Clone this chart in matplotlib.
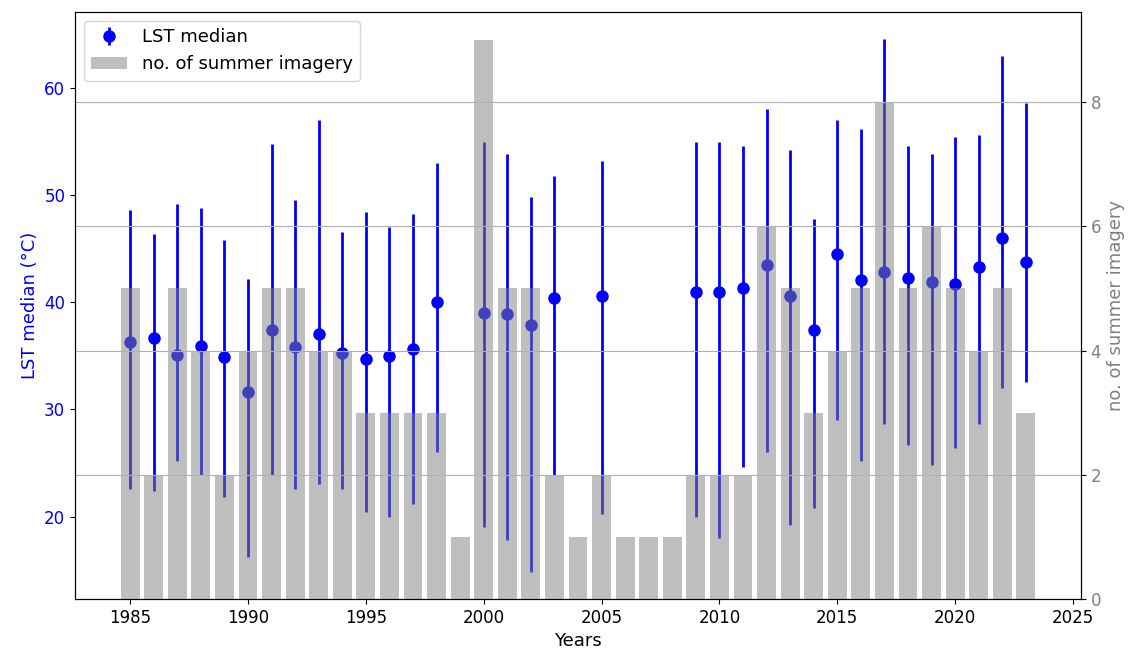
import matplotlib
matplotlib.use("Agg")
import matplotlib.pyplot as plt
import numpy as np


# number of summer images per year (right axis)
img_years = np.arange(1985, 2024)
img_counts = np.array([
    5, 2, 5, 4, 2, 4, 5, 5, 4, 4,
    3, 3, 3, 3, 1, 9, 5, 5, 2, 1,
    2, 1, 1, 1, 2, 2, 2, 6, 5, 3,
    4, 5, 8, 5, 6, 5, 4, 5, 3,
])

# LST median with lower / upper whisker ends (left axis)
lst_years = np.array([
    1985, 1986, 1987, 1988, 1989, 1990, 1991, 1992, 1993, 1994,
    1995, 1996, 1997, 1998, 2000, 2001, 2002, 2003, 2005, 2009,
    2010, 2011, 2012, 2013, 2014, 2015, 2016, 2017, 2018, 2019,
    2020, 2021, 2022, 2023,
])
lst_median = np.array([
    36.3, 36.7, 35.1, 35.9, 34.9, 31.6, 37.4, 35.8, 37.0, 35.3,
    34.7, 35.0, 35.6, 40.0, 39.0, 38.9, 37.9, 40.4, 40.6, 41.0,
    41.0, 41.3, 43.5, 40.6, 37.4, 44.5, 42.1, 42.8, 42.3, 41.9,
    41.7, 43.3, 46.0, 43.8,
])
lst_low = np.array([
    22.6, 22.4, 25.2, 23.9, 21.8, 16.2, 23.9, 22.6, 23.0, 22.6,
    20.4, 20.0, 21.2, 26.0, 19.0, 17.8, 14.8, 23.9, 20.2, 20.0,
    18.0, 24.6, 26.0, 19.2, 20.8, 29.0, 25.2, 28.6, 26.7, 24.8,
    26.4, 28.6, 32.0, 32.6,
])
lst_high = np.array([
    48.6, 46.4, 49.2, 48.8, 45.8, 42.2, 54.8, 49.5, 57.0, 46.6,
    48.4, 47.0, 48.2, 53.0, 55.0, 53.8, 49.8, 51.8, 53.2, 55.0,
    55.0, 54.6, 58.0, 54.2, 47.8, 57.0, 56.2, 64.6, 54.6, 53.8,
    55.4, 55.6, 63.0, 58.6,
])

plt.rcParams["font.size"] = 12

fig, ax1 = plt.subplots(figsize=(11.3, 6.53), dpi=100)
fig.subplots_adjust(left=0.0664, right=0.9566, bottom=0.0827, top=0.9816)

yerr = np.vstack([lst_median - lst_low, lst_high - lst_median])
eb = ax1.errorbar(lst_years, lst_median, yerr=yerr, fmt="o", color="blue",
                  markersize=8, elinewidth=2, capsize=0, label="LST median")
ax1.set_xlabel("Years", fontsize=13)
ax1.set_ylabel("LST median (°C)", color="blue", fontsize=13)
ax1.tick_params(axis="y", labelcolor="blue")

ax2 = ax1.twinx()
bars = ax2.bar(img_years, img_counts, color="gray", alpha=0.5,
               label="no. of summer imagery")
ax2.set_ylabel("no. of summer imagery", color="gray", fontsize=13)
ax2.tick_params(axis="y", labelcolor="gray")
ax2.grid(True, axis="y")

ax2.legend([eb, bars], ["LST median", "no. of summer imagery"],
           loc="upper left", fontsize=13)

fig.savefig("out.png", dpi=100)
